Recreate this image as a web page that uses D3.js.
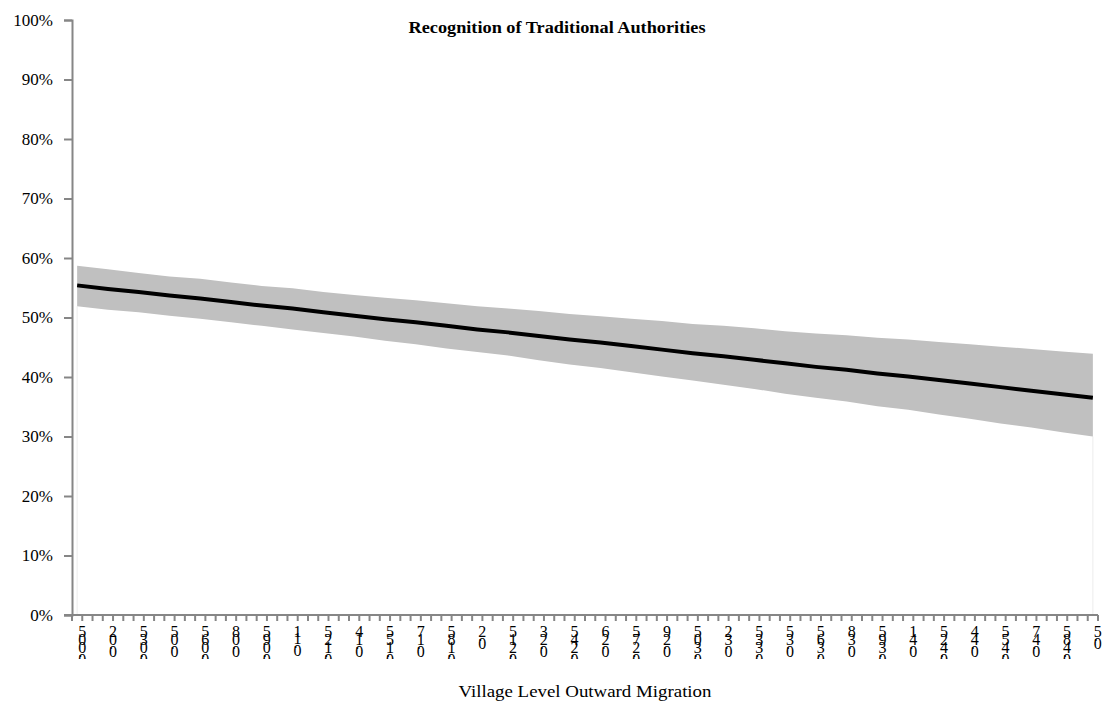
<!DOCTYPE html>
<html>
<head>
<meta charset="utf-8">
<script src="https://cdn.jsdelivr.net/npm/d3@7"></script>
<style>
  html, body { margin: 0; padding: 0; background: #fff; }
  svg { display: block; }
</style>
</head>
<body>
<svg id="chart" width="1107" height="702"></svg>
<script>
// Village level outward migration shares (x categories, 0.005 steps)
const migration = d3.range(1, 101).map(i => +(i * 0.005).toFixed(3));

// Values read at every third category (0.005, 0.020, ..., 0.500)
const sampleMigration = [0.005, 0.02, 0.035, 0.05, 0.065, 0.08, 0.095, 0.11, 0.125, 0.14,
  0.155, 0.17, 0.185, 0.2, 0.215, 0.23, 0.245, 0.26, 0.275, 0.29, 0.305, 0.32, 0.335,
  0.35, 0.365, 0.38, 0.395, 0.41, 0.425, 0.44, 0.455, 0.47, 0.485, 0.5];

// Predicted probability of recognising traditional authorities
const predicted = [0.554, 0.548, 0.543, 0.537, 0.532, 0.526, 0.520, 0.515, 0.509, 0.503,
  0.497, 0.492, 0.486, 0.480, 0.475, 0.469, 0.463, 0.458, 0.452, 0.446, 0.440, 0.435,
  0.429, 0.423, 0.417, 0.412, 0.406, 0.401, 0.395, 0.389, 0.383, 0.377, 0.371, 0.365];

// Confidence interval bounds
const upper = [0.587, 0.581, 0.575, 0.569, 0.565, 0.559, 0.553, 0.549, 0.543, 0.538,
  0.533, 0.529, 0.524, 0.519, 0.515, 0.511, 0.506, 0.502, 0.498, 0.494, 0.489, 0.486,
  0.482, 0.477, 0.473, 0.470, 0.466, 0.463, 0.459, 0.455, 0.451, 0.447, 0.443, 0.439];
const lower = [0.519, 0.513, 0.509, 0.503, 0.498, 0.492, 0.486, 0.480, 0.474, 0.468,
  0.461, 0.455, 0.448, 0.442, 0.436, 0.428, 0.421, 0.415, 0.408, 0.401, 0.394, 0.387,
  0.380, 0.372, 0.365, 0.359, 0.351, 0.345, 0.337, 0.330, 0.322, 0.315, 0.307, 0.300];

const yTicks = [0, 0.1, 0.2, 0.3, 0.4, 0.5, 0.6, 0.7, 0.8, 0.9, 1.0];

const svg = d3.select("#chart");
const fontFamily = "'Liberation Serif', 'DejaVu Serif', serif";
const axisColor = "#868686";

const plotLeft = 72, plotRight = 1098, plotTop = 20, plotBottom = 615;

const x = d3.scalePoint().domain(migration).range([plotLeft, plotRight]).padding(0.5);
const step = x.step();
const y = d3.scaleLinear().domain([0, 1]).range([plotBottom, plotTop]);

const rows = sampleMigration.map((m, i) => ({ m, p: predicted[i], hi: upper[i], lo: lower[i] }));

// Faint edges of the invisible lower area
svg.append("g")
  .selectAll("line")
  .data([rows[0], rows[rows.length - 1]])
  .join("line")
  .attr("x1", d => x(d.m)).attr("x2", d => x(d.m))
  .attr("y1", y(0)).attr("y2", d => y(d.lo))
  .attr("stroke", "#ececec").attr("stroke-width", 1);

// Confidence band
svg.append("path")
  .datum(rows)
  .attr("fill", "#c0c0c0")
  .attr("d", d3.area().x(d => x(d.m)).y0(d => y(d.lo)).y1(d => y(d.hi)));

// Predicted line
svg.append("path")
  .datum(rows)
  .attr("fill", "none")
  .attr("stroke", "#000")
  .attr("stroke-width", 4)
  .attr("d", d3.line().x(d => x(d.m)).y(d => y(d.p)));

// Y axis
const yAxis = svg.append("g")
  .attr("transform", `translate(${plotLeft},0)`)
  .call(d3.axisLeft(y).tickValues(yTicks).tickFormat(d3.format(".0%")).tickSize(8).tickPadding(11));
yAxis.select(".domain").attr("stroke", axisColor).attr("stroke-width", 2);
yAxis.selectAll(".tick line").attr("stroke", axisColor).attr("stroke-width", 2);
yAxis.selectAll(".tick text")
  .attr("font-family", fontFamily).attr("font-size", 17).attr("fill", "#000");

// X axis: tick marks at category boundaries
const gx = svg.append("g");
gx.append("line")
  .attr("x1", plotLeft - 8).attr("x2", plotRight)
  .attr("y1", plotBottom).attr("y2", plotBottom)
  .attr("stroke", axisColor).attr("stroke-width", 2);
gx.selectAll("line.tk")
  .data(d3.range(0, migration.length + 1))
  .join("line")
  .attr("class", "tk")
  .attr("x1", k => plotLeft + k * step).attr("x2", k => plotLeft + k * step)
  .attr("y1", plotBottom).attr("y2", plotBottom + 6)
  .attr("stroke", axisColor).attr("stroke-width", 2);

// Category labels: text runs upward with each glyph kept upright,
// clipped to the strip under the axis
svg.append("clipPath").attr("id", "xlab-clip")
  .append("rect").attr("x", 0).attr("y", plotBottom + 7).attr("width", 1107).attr("height", 37);

const labelGroup = svg.append("g").attr("clip-path", "url(#xlab-clip)");
labelGroup.selectAll("text")
  .data(sampleMigration)
  .join("text")
  .attr("transform", m => `translate(${x(m) + 1},${plotBottom + 14}) rotate(-90)`)
  .attr("rotate", 90)
  .attr("text-anchor", "end")
  .attr("font-family", fontFamily)
  .attr("font-size", 16)
  .attr("fill", "#000")
  .text(m => String(m));

// Titles
svg.append("text")
  .attr("x", 557).attr("y", 33)
  .attr("text-anchor", "middle")
  .attr("font-family", fontFamily).attr("font-weight", "bold").attr("font-size", 16)
  .attr("textLength", 297).attr("lengthAdjust", "spacingAndGlyphs")
  .text("Recognition of Traditional Authorities");

svg.append("text")
  .attr("x", 585).attr("y", 697)
  .attr("text-anchor", "middle")
  .attr("font-family", fontFamily).attr("font-size", 17)
  .attr("textLength", 253).attr("lengthAdjust", "spacingAndGlyphs")
  .text("Village Level Outward Migration");
</script>
</body>
</html>
